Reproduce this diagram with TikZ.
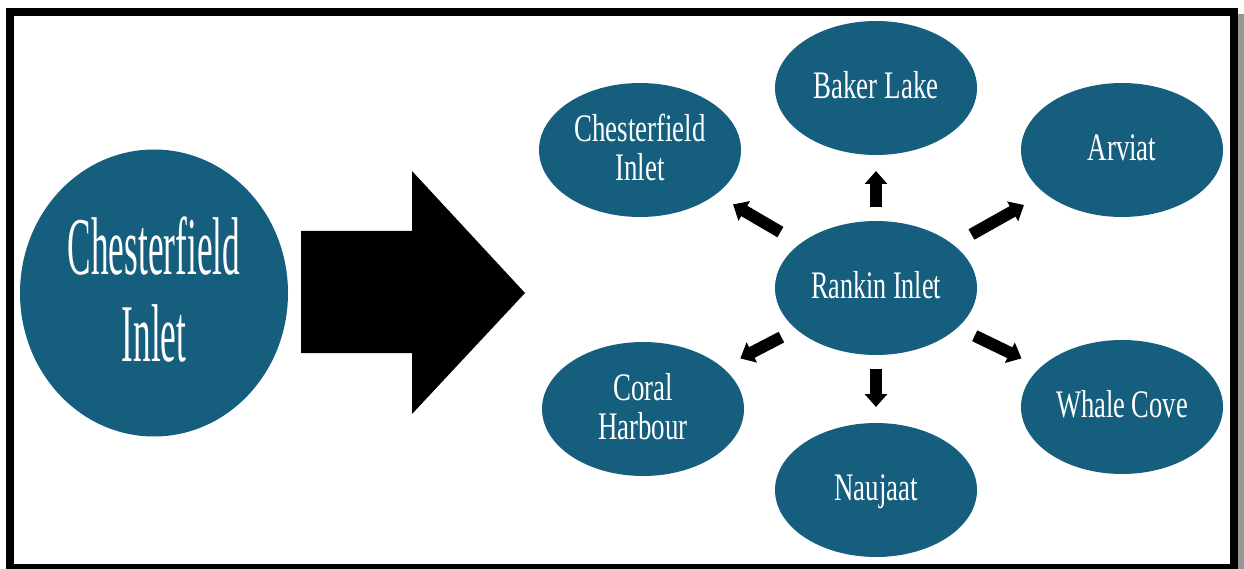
\documentclass[tikz,border=0pt]{standalone}
\usepackage{fontspec}
\usepackage{graphicx}
\setmainfont{Liberation Serif}
\usetikzlibrary{shapes.geometric,arrows.meta}
\definecolor{cityblue}{RGB}{22,94,126}
\definecolor{framegray}{RGB}{150,150,150}
% horizontally condensed, centred block of lines
\newcommand{\sqz}[2]{\scalebox{#1}[1]{\begin{tabular}[t]{@{}c@{}}#2\end{tabular}}}
\begin{document}
\begin{tikzpicture}[x=1pt,y=-1pt,
  city/.style={ellipse, fill=cityblue, text=white, inner sep=0pt, outer sep=0pt,
    minimum width=202pt, minimum height=134pt,
    font=\fontsize{39}{39}\selectfont, text depth=7pt},
  citytwo/.style={city, text depth=45pt},
  bigcity/.style={ellipse, fill=cityblue, text=white, inner sep=0pt, outer sep=0pt,
    minimum width=268pt, minimum height=287pt,
    font=\fontsize{82}{87}\selectfont, text depth=97pt},
  spoke/.style={line width=12pt, black, -{Triangle[length=13pt,width=22pt]}},
  bigarrow/.style={fill=black}]
\useasboundingbox (0,0) rectangle (1244,569);
\clip (0,0) rectangle (1244,569);

% page frame with its shadow
\fill[framegray] (1238,14) rectangle (1244,569);
\draw[line width=8pt] (10,12) rectangle (1234,568);

% source community
\node[bigcity] (source) at (154,293) {\sqz{0.43}{Chesterfield\\Inlet}};

% large block arrow
\fill[bigarrow] (301,231) -- (412,231) -- (412,171) -- (525,293)
  -- (412,414) -- (412,353) -- (301,353) -- cycle;

% hub and destinations
\node[city]    (rankin) at (876,288)  {\sqz{0.67}{Rankin Inlet}};
\node[city]    (baker)  at (876,88)   {\sqz{0.69}{Baker Lake}};
\node[citytwo] (chest)  at (640,150)  {\sqz{0.69}{Chesterfield\\Inlet}};
\node[city]    (arviat) at (1122,150) {\sqz{0.69}{Arviat}};
\node[citytwo] (coral)  at (643,409)  {\sqz{0.69}{Coral\\Harbour}};
\node[city]    (whale)  at (1122,407) {\sqz{0.68}{Whale Cove}};
\node[city]    (nauj)   at (876,490)  {\sqz{0.69}{Naujaat}};

% spokes from the hub
\draw[spoke, shorten <=14pt, shorten >=16pt] (rankin) -- (baker);
\draw[spoke, shorten <=23pt, shorten >=20pt] (rankin) -- (chest);
\draw[spoke, shorten <=21pt, shorten >=24pt] (rankin) -- (arviat);
\draw[spoke, shorten <=17pt, shorten >=20pt] (rankin) -- (coral);
\draw[spoke, shorten <=19pt, shorten >=21pt] (rankin) -- (whale);
\draw[spoke, shorten <=14pt, shorten >=16pt] (rankin) -- (nauj);
\end{tikzpicture}
\end{document}
